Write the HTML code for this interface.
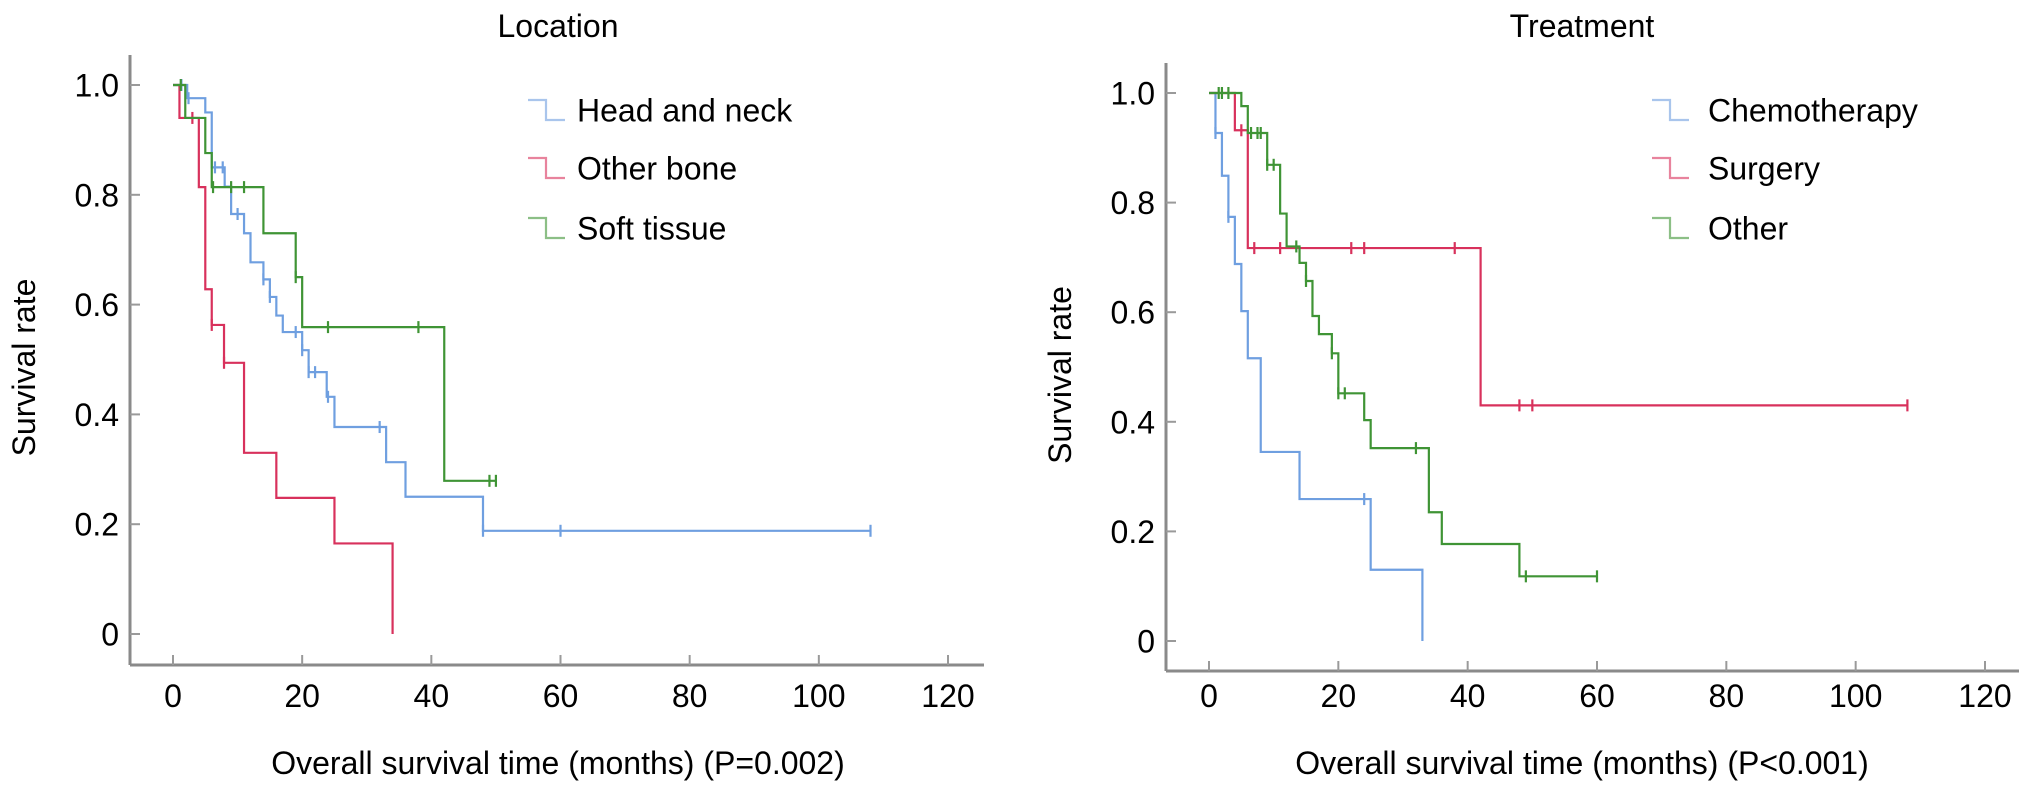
<!DOCTYPE html>
<html><head><meta charset="utf-8"><style>
html,body{margin:0;padding:0;background:#fff;}
svg{display:block;font-family:"Liberation Sans",Arial,sans-serif;}
</style></head><body>
<svg id="chart" width="2032" height="791" viewBox="0 0 2032 791" xmlns="http://www.w3.org/2000/svg"></svg>
<script>
// ---- Data: Location panel ----
const xTicks = [0, 20, 40, 60, 80, 100, 120];
const yTicks = [0, 0.2, 0.4, 0.6, 0.8, 1.0];
const yTickLabels = ["0", "0.2", "0.4", "0.6", "0.8", "1.0"];

const headTimes = [0, 2.2, 5, 6, 8, 9, 11, 12, 14, 15, 16, 17, 20, 21, 23.8, 25, 33, 36, 48];
const headSurv  = [1, 0.976, 0.95, 0.85, 0.815, 0.765, 0.73, 0.677, 0.646, 0.614, 0.58, 0.55, 0.517, 0.477, 0.432, 0.377, 0.313, 0.25, 0.188];
const headEnd = 108;
const headCens = [1.3, 2.4, 6.5, 7.7, 10, 14, 15, 19, 20, 21, 22, 24, 32, 48, 60, 108];

const boneTimes = [0, 1, 4, 5, 6, 7.9, 11, 16, 25, 34];
const boneSurv  = [1, 0.94, 0.814, 0.628, 0.563, 0.494, 0.33, 0.248, 0.165, 0];
const boneEnd = 34;
const boneCens = [3, 6, 7.9];

const softTimes = [0, 1.9, 5, 6, 14, 19, 20, 42];
const softSurv  = [1, 0.94, 0.876, 0.814, 0.73, 0.65, 0.559, 0.279];
const softEnd = 50;
const softCens = [1.2, 6.2, 9, 11, 19, 24, 38, 49, 50];

// ---- Data: Treatment panel ----
const chemoTimes = [0, 1, 2, 3, 4, 5, 6, 8, 14, 25, 33];
const chemoSurv  = [1, 0.927, 0.849, 0.774, 0.688, 0.602, 0.516, 0.345, 0.259, 0.13, 0];
const chemoEnd = 33;
const chemoCens = [1, 3, 24];

const surgTimes = [0, 4, 6, 42];
const surgSurv  = [1, 0.932, 0.717, 0.43];
const surgEnd = 108;
const surgCens = [5, 7, 11, 22, 24, 38, 48, 50, 108];

const otherTimes = [0, 5, 6, 9, 11, 12, 14, 15, 16, 17, 19, 20, 24, 25, 34, 36, 48];
const otherSurv  = [1, 0.976, 0.927, 0.869, 0.78, 0.72, 0.69, 0.657, 0.593, 0.56, 0.525, 0.452, 0.403, 0.352, 0.235, 0.177, 0.118];
const otherEnd = 60;
const otherCens = [1.5, 2, 3, 6.5, 7.5, 8, 9, 10, 13.5, 15, 19, 20, 21, 32, 49, 60];

const NS = "http://www.w3.org/2000/svg";
const svg = document.getElementById("chart");
function mk(tag, attrs, parent) {
  const e = document.createElementNS(NS, tag);
  for (const k in attrs) e.setAttribute(k, attrs[k]);
  (parent || svg).appendChild(e);
  return e;
}

const panels = [
  { key: "location", title: "Location", xTitle: "Overall survival time (months) (P=0.002)",
    axL: 130, axR: 984, axB: 665, x0: 173, x120: 948, y0: 634, y1: 85, center: 558, yTitleX: 24,
    legX: 528, legTextX: 577,
    series: [
      { name: "Head and neck", slug: "head-and-neck", color: "#6f9fe0", t: headTimes, s: headSurv, end: headEnd, c: headCens },
      { name: "Other bone", slug: "other-bone", color: "#d8315c", t: boneTimes, s: boneSurv, end: boneEnd, c: boneCens },
      { name: "Soft tissue", slug: "soft-tissue", color: "#3f9435", t: softTimes, s: softSurv, end: softEnd, c: softCens }
    ] },
  { key: "treatment", title: "Treatment", xTitle: "Overall survival time (months) (P<0.001)",
    axL: 1166, axR: 2019, axB: 671, x0: 1209, x120: 1985, y0: 641, y1: 93, center: 1582, yTitleX: 1060,
    legX: 1652, legTextX: 1708,
    series: [
      { name: "Chemotherapy", slug: "chemotherapy", color: "#6f9fe0", t: chemoTimes, s: chemoSurv, end: chemoEnd, c: chemoCens },
      { name: "Surgery", slug: "surgery", color: "#d8315c", t: surgTimes, s: surgSurv, end: surgEnd, c: surgCens },
      { name: "Other", slug: "other", color: "#3f9435", t: otherTimes, s: otherSurv, end: otherEnd, c: otherCens }
    ] }
];

function survAt(t, times, surv) {
  let v = surv[0];
  for (let i = 0; i < times.length; i++) if (times[i] <= t) v = surv[i];
  return v;
}

panels.forEach(p => {
  const g = mk("g", {});
  
  
  const X = m => p.x0 + (p.x120 - p.x0) * m / 120;
  const Y = v => p.y0 - (p.y0 - p.y1) * v;

  const title = mk("text", { x: p.center, y: 37, "text-anchor": "middle", "font-size": 32, fill: "#000" }, g);
  title.textContent = p.title;
  
  

  const yAxis = mk("line", { x1: p.axL, y1: p.y1 - 30, x2: p.axL, y2: p.axB, stroke: "#8a8a8a", "stroke-width": 3 }, g);
  
  
  const xAxis = mk("line", { x1: p.axL, y1: p.axB, x2: p.axR, y2: p.axB, stroke: "#8a8a8a", "stroke-width": 3 }, g);
  
  

  yTicks.forEach((v, i) => {
    mk("line", { x1: p.axL, y1: Y(v), x2: p.axL + 10, y2: Y(v), stroke: "#9a9a9a", "stroke-width": 2 }, g);
    const t = mk("text", { x: p.axL - 11, y: Y(v) + 11.5, "text-anchor": "end", "font-size": 32, fill: "#000" }, g);
    t.textContent = yTickLabels[i];
    
    
  });
  xTicks.forEach(m => {
    mk("line", { x1: X(m), y1: p.axB, x2: X(m), y2: p.axB - 10, stroke: "#9a9a9a", "stroke-width": 2 }, g);
    const t = mk("text", { x: X(m), y: 707, "text-anchor": "middle", "font-size": 32, fill: "#000" }, g);
    t.textContent = String(m);
    
    
  });

  const xt = mk("text", { x: p.center, y: 774, "text-anchor": "middle", "font-size": 32, fill: "#000" }, g);
  xt.textContent = p.xTitle;
  
  
  const yc = (p.y0 + p.y1) / 2 + 8;
  const yt = mk("text", { x: p.yTitleX, y: yc, "text-anchor": "middle", "font-size": 32, fill: "#000",
    transform: "rotate(-90 " + p.yTitleX + " " + yc + ")", dy: "11" }, g);
  yt.textContent = "Survival rate";
  
  

  p.series.forEach((s, si) => {
    let d = "M" + X(s.t[0]) + " " + Y(s.s[0]);
    for (let i = 1; i < s.t.length; i++) {
      d += " H" + X(s.t[i]) + " V" + Y(s.s[i]);
    }
    d += " H" + X(s.end);
    const path = mk("path", { d: d, fill: "none", stroke: s.color, "stroke-width": 2.2 }, g);
    
    
    s.c.forEach(ct => {
      const cy = Y(survAt(ct, s.t, s.s));
      const cm = mk("line", { x1: X(ct), y1: cy - 6, x2: X(ct), y2: cy + 6, stroke: s.color, "stroke-width": 2.2 }, g);
      
      
    });

    const ly = [110, 168, 228][si];
    const lg = mk("g", {}, g);
    
    
    mk("path", { d: "M" + p.legX + " " + (ly - 10) + " H" + (p.legX + 18) + " V" + (ly + 10) + " H" + (p.legX + 37),
      fill: "none", stroke: s.color, "stroke-width": 2.2, opacity: 0.6 }, lg);
    const lt = mk("text", { x: p.legTextX, y: ly + 11.5, "font-size": 32, fill: "#000" }, lg);
    lt.textContent = s.name;
  });
});
</script>
</body></html>
